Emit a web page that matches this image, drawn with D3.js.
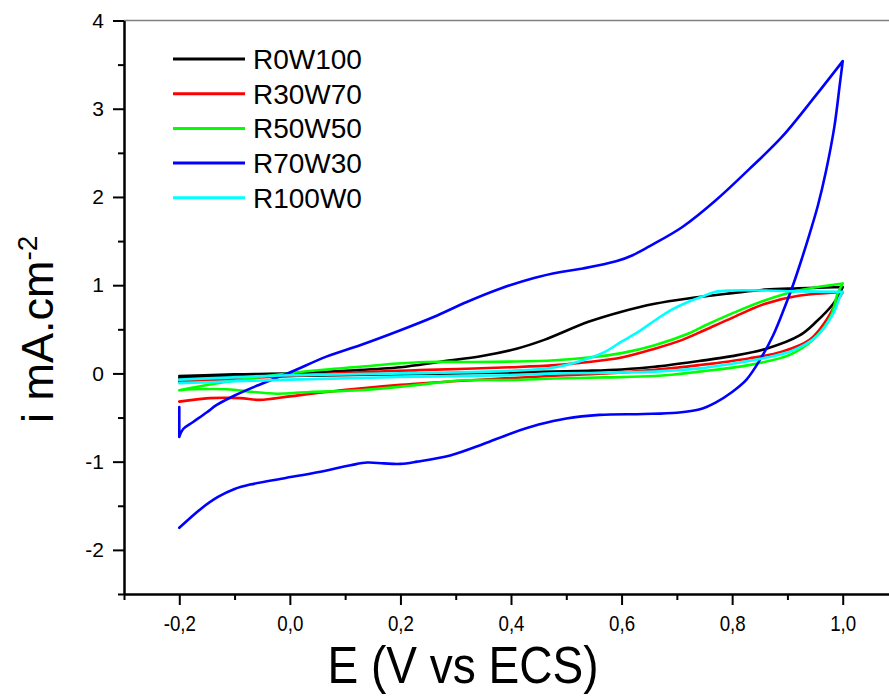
<!DOCTYPE html>
<html>
<head>
<meta charset="utf-8">
<script src="https://cdn.jsdelivr.net/npm/d3@7/dist/d3.min.js"></script>
<style>
  html, body { margin: 0; padding: 0; background: #fff; }
  svg { display: block; }
</style>
</head>
<body>
<svg id="chart" width="889" height="697"></svg>
<script>
// ---------------- DATA ([E (V), i (mA/cm2)]) ----------------
const seriesNames = ["R0W100", "R30W70", "R50W50", "R70W30", "R100W0"];
const seriesColors = ["#000000", "#ff0000", "#00ff00", "#0000ff", "#00ffff"];

const xMajorTicks = [-0.2, 0.0, 0.2, 0.4, 0.6, 0.8, 1.0];
const xMinorTicks = [-0.3, -0.1, 0.1, 0.3, 0.5, 0.7, 0.9, 1.1];
const yMajorTicks = [-2, -1, 0, 1, 2, 3, 4];
const yMinorTicks = [-2.5, -1.5, -0.5, 0.5, 1.5, 2.5, 3.5];

const R0W100_anodic = [[-0.2,-0.03],[-0.1,-0.01],[0,0.0],[0.1,0.03],[0.2,0.07],[0.27,0.13],[0.35,0.20],[0.41,0.28],[0.46,0.38],[0.54,0.585],[0.6,0.70],[0.66,0.79],[0.72,0.85],[0.8,0.91],[0.86,0.95],[0.92,0.965],[1.0,0.98]];
const R0W100_cathodic = [[1.0,0.98],[0.995,0.91],[0.983,0.79],[0.952,0.585],[0.922,0.43],[0.862,0.28],[0.80,0.196],[0.74,0.14],[0.66,0.075],[0.6,0.045],[0.54,0.03],[0.4,0.01],[0.2,-0.01],[0,-0.03],[-0.2,-0.05]];

const R30W70_anodic = [[-0.2,-0.09],[0,-0.03],[0.15,0.02],[0.25,0.04],[0.4,0.07],[0.48,0.094],[0.54,0.13],[0.6,0.18],[0.66,0.28],[0.71,0.38],[0.75,0.49],[0.8,0.63],[0.86,0.79],[0.92,0.88],[1.0,0.92]];
const R30W70_cathodic = [[1.0,0.92],[0.99,0.82],[0.97,0.6],[0.94,0.38],[0.89,0.245],[0.83,0.17],[0.74,0.094],[0.66,0.04],[0.57,0.0],[0.47,-0.03],[0.32,-0.08],[0.2,-0.13],[0.066,-0.21],[0,-0.26],[-0.054,-0.30],[-0.09,-0.28],[-0.145,-0.28],[-0.2,-0.32]];

const R50W50_anodic = [[-0.2,-0.19],[-0.175,-0.16],[-0.114,-0.095],[-0.054,-0.04],[0.006,0.007],[0.066,0.045],[0.127,0.075],[0.187,0.11],[0.247,0.13],[0.32,0.13],[0.41,0.135],[0.48,0.15],[0.54,0.18],[0.6,0.23],[0.66,0.32],[0.72,0.45],[0.75,0.54],[0.8,0.68],[0.86,0.83],[0.92,0.94],[1.0,1.02]];
const R50W50_cathodic = [[1.0,1.02],[0.99,0.89],[0.978,0.64],[0.946,0.38],[0.904,0.21],[0.83,0.094],[0.74,0.02],[0.66,-0.03],[0.57,-0.045],[0.48,-0.057],[0.4,-0.075],[0.307,-0.08],[0.217,-0.14],[0.127,-0.19],[0.036,-0.21],[-0.024,-0.23],[-0.066,-0.21],[-0.114,-0.18],[-0.175,-0.18],[-0.2,-0.19]];

const R70W30_start = [[-0.2,-0.38],[-0.2,-0.72]];
const R70W30_anodic = [[-0.2,-0.72],[-0.193,-0.63],[-0.175,-0.55],[-0.15,-0.44],[-0.133,-0.36],[-0.1,-0.25],[-0.06,-0.14],[0.0,0.01],[0.066,0.19],[0.127,0.32],[0.2,0.49],[0.26,0.64],[0.32,0.81],[0.38,0.96],[0.44,1.08],[0.49,1.15],[0.53,1.19],[0.59,1.27],[0.62,1.34],[0.65,1.44],[0.71,1.66],[0.77,1.96],[0.83,2.31],[0.89,2.68],[0.95,3.14],[1.0,3.54]];
const R70W30_cathodic = [[1.0,3.54],[0.995,3.29],[0.985,2.80],[0.97,2.30],[0.955,1.90],[0.94,1.58],[0.925,1.28],[0.91,1.0],[0.895,0.75],[0.874,0.43],[0.85,0.15],[0.826,-0.07],[0.80,-0.21],[0.77,-0.33],[0.74,-0.41],[0.70,-0.445],[0.64,-0.46],[0.56,-0.47],[0.50,-0.51],[0.45,-0.58],[0.40,-0.68],[0.35,-0.80],[0.29,-0.93],[0.23,-1.0],[0.2,-1.025],[0.17,-1.02],[0.14,-1.01],[0.11,-1.04],[0.05,-1.12],[-0.012,-1.19],[-0.072,-1.26],[-0.10,-1.31],[-0.13,-1.40],[-0.16,-1.53],[-0.2,-1.75]];

const R100W0_anodic = [[-0.2,-0.07],[0,-0.02],[0.2,0.0],[0.4,0.03],[0.48,0.07],[0.54,0.17],[0.57,0.245],[0.6,0.36],[0.63,0.47],[0.66,0.60],[0.69,0.72],[0.72,0.81],[0.75,0.88],[0.77,0.925],[0.80,0.94],[0.86,0.94],[0.92,0.93],[1.0,0.925]];
const R100W0_cathodic = [[1.0,0.925],[0.995,0.87],[0.983,0.68],[0.952,0.415],[0.91,0.26],[0.862,0.18],[0.80,0.11],[0.74,0.057],[0.66,0.02],[0.57,0.007],[0.48,0.0],[0.4,-0.02],[0.2,-0.04],[0,-0.07],[-0.2,-0.11]];

const seriesBranches = [
  [R0W100_anodic, R0W100_cathodic],
  [R30W70_anodic, R30W70_cathodic],
  [R50W50_anodic, R50W50_cathodic],
  [R70W30_start, R70W30_anodic, R70W30_cathodic],
  [R100W0_anodic, R100W0_cathodic]
];

// ---------------- CHART ----------------
const svg = d3.select("#chart");
const x = d3.scaleLinear().domain([-0.3, 1.1]).range([124, 898]);
const y = d3.scaleLinear().domain([-2.5, 4]).range([594, 20.5]);

const fmtX = d => (d < 0 ? "-" : "") + Math.abs(d).toFixed(1).replace(".", ",");
const fmtY = d => String(d);

// top / right border (grey)
svg.append("line")
  .attr("x1", x(-0.3)).attr("x2", x(1.1))
  .attr("y1", y(4)).attr("y2", y(4))
  .attr("stroke", "#808080").attr("stroke-width", 1.5);
svg.append("line")
  .attr("x1", x(1.1)).attr("x2", x(1.1))
  .attr("y1", y(4)).attr("y2", y(-2.5))
  .attr("stroke", "#808080").attr("stroke-width", 1.5);

// curves
const line = d3.line().x(d => x(d[0])).y(d => y(d[1])).curve(d3.curveCatmullRom.alpha(0.5));
seriesBranches.forEach((branches, k) => {
  const d = branches.map((b, j) => {
    const p = line(b);
    return j === 0 ? p : p.replace(/^M/, "L");
  }).join("");
  svg.append("path")
    .attr("d", d)
    .attr("fill", "none")
    .attr("stroke", seriesColors[k])
    .attr("stroke-width", 2.6)
    .attr("stroke-linejoin", "round")
    .attr("stroke-linecap", "round");
});

// axes
const xAxisMinor = d3.axisBottom(x).tickValues(xMinorTicks).tickSize(6).tickSizeOuter(0).tickFormat("");
const xAxisMajor = d3.axisBottom(x).tickValues(xMajorTicks).tickSize(11).tickSizeOuter(0).tickPadding(10).tickFormat(fmtX);
const yAxisMinor = d3.axisLeft(y).tickValues(yMinorTicks).tickSize(6).tickSizeOuter(0).tickFormat("");
const yAxisMajor = d3.axisLeft(y).tickValues(yMajorTicks).tickSize(11).tickSizeOuter(0).tickPadding(9).tickFormat(fmtY);

const sans = "'Liberation Sans', Arial, sans-serif";
function styleAxis(g, size, sx) {
  g.selectAll("path.domain").attr("stroke", "#000").attr("stroke-width", 2);
  g.selectAll(".tick line").attr("stroke", "#000").attr("stroke-width", 2);
  const t = g.selectAll(".tick text").attr("fill", "#000").attr("font-family", sans).attr("font-size", size);
  if (sx) t.attr("transform", `scale(${sx},1)`);
  g.attr("font-family", null).attr("font-size", null);
}

styleAxis(svg.append("g").attr("transform", `translate(0,${y(-2.5)})`).call(xAxisMinor), 22, 0.85);
styleAxis(svg.append("g").attr("transform", `translate(0,${y(-2.5)})`).call(xAxisMajor), 22, 0.85);
styleAxis(svg.append("g").attr("transform", `translate(${x(-0.3)},0)`).call(yAxisMinor), 21);
styleAxis(svg.append("g").attr("transform", `translate(${x(-0.3)},0)`).call(yAxisMajor), 21);

// axis titles
svg.append("text")
  .attr("transform", "translate(463,683) scale(0.885,1)")
  .attr("text-anchor", "middle")
  .attr("font-family", sans).attr("font-size", 52)
  .attr("fill", "#000")
  .text("E (V vs ECS)");

const yt = svg.append("text")
  .attr("transform", "translate(53,423) rotate(-90)")
  .attr("font-family", sans).attr("font-size", 45)
  .attr("fill", "#000");
yt.append("tspan").text("i mA.cm");
yt.append("tspan").attr("dy", -16).attr("font-size", 28).text("-2");

// legend
const legend = svg.append("g");
seriesNames.forEach((name, k) => {
  const ly = 59 + k * 34.7;
  legend.append("line")
    .attr("x1", 173).attr("x2", 245).attr("y1", ly).attr("y2", ly)
    .attr("stroke", seriesColors[k]).attr("stroke-width", 3);
  legend.append("text")
    .attr("x", 253).attr("y", ly).attr("dy", "0.36em")
    .attr("font-family", sans).attr("font-size", 28)
    .attr("fill", "#000")
    .text(name);
});
</script>
</body>
</html>
